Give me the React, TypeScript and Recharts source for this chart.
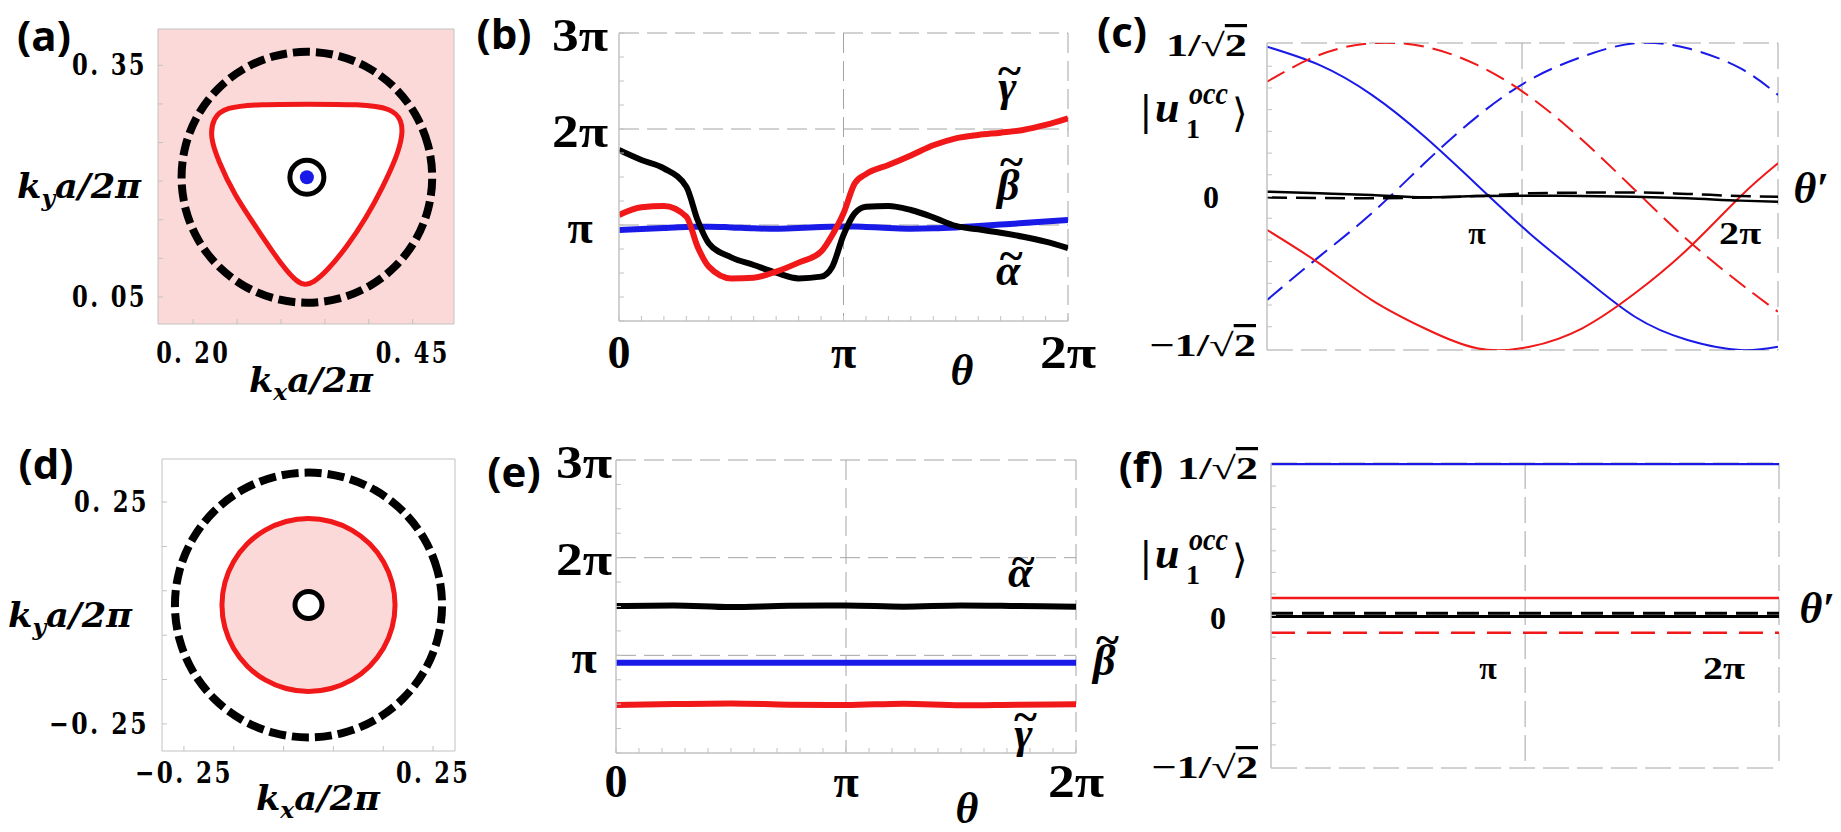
import React from 'react';
import { Area, CartesianGrid, ComposedChart, Line, Scatter, XAxis, YAxis } from 'recharts';

const RED = '#f01818';
const BLUE = '#1a1ae8';
const PINK = '#fcd9d9';
const FRAME = '#c2c2c2';
const GRID = '#a4a4a4';
const SERIF = '"Liberation Serif", "DejaVu Serif", serif';
const DJ = '"DejaVu Serif", serif';
const SANS = '"Open Sans", Lato, sans-serif';
const INV_SQRT2 = 0.7071;

// (a) loops in k-space, pairs of [kx a/2π, ky a/2π]
const aLoopK = [
  [0.4738, 0.205], [0.4689, 0.2475], [0.4545, 0.2872], [0.4315, 0.3212], [0.4017, 0.3473], [0.3668, 0.3637],
  [0.3295, 0.3693], [0.2922, 0.3637], [0.2573, 0.3473], [0.2275, 0.3212], [0.2045, 0.2872], [0.1901, 0.2475],
  [0.1852, 0.205], [0.1901, 0.1625], [0.2045, 0.1228], [0.2275, 0.0888], [0.2573, 0.0627], [0.2922, 0.0463],
  [0.3295, 0.0407], [0.3668, 0.0463], [0.4017, 0.0627], [0.4315, 0.0888], [0.4545, 0.1228], [0.4689, 0.1625],
];
const aFermiK = [
  [0.3295, 0.2997], [0.3898, 0.2997], [0.4261, 0.2945], [0.4375, 0.279], [0.4386, 0.2596], [0.4318, 0.2311],
  [0.4159, 0.1923], [0.3977, 0.1535], [0.375, 0.1147], [0.3523, 0.0836], [0.3364, 0.0681], [0.3273, 0.0655],
  [0.3182, 0.0694], [0.3023, 0.0888], [0.2761, 0.1328], [0.2455, 0.1845], [0.2284, 0.2272], [0.2193, 0.257],
  [0.2227, 0.2816], [0.2364, 0.2958], [0.2761, 0.2997],
];
const aCenterK = [[0.3295, 0.205]];
const aTicksX = [0.2, 0.45];
const aTicksY = [0.05, 0.35];
const aMinorX = [0.2, 0.25, 0.3, 0.35, 0.4, 0.45];
const aMinorY = [0.05, 0.1, 0.15, 0.2, 0.25, 0.3, 0.35];

// (d)
const dLoopK = [
  [0.2711, 0.018], [0.2619, 0.0961], [0.2348, 0.1689], [0.1917, 0.2314], [0.1356, 0.2794], [0.0702, 0.3095],
  [0, 0.3198], [-0.0702, 0.3095], [-0.1356, 0.2794], [-0.1917, 0.2314], [-0.2348, 0.1689], [-0.2619, 0.0961],
  [-0.2711, 0.018], [-0.2619, -0.0601], [-0.2348, -0.1329], [-0.1917, -0.1954], [-0.1356, -0.2434], [-0.0702, -0.2735],
  [0, -0.2838], [0.0702, -0.2735], [0.1356, -0.2434], [0.1917, -0.1954], [0.2348, -0.1329], [0.2619, -0.0601],
];
const dFermiK = [
  [0.1757, 0.018], [0.1697, 0.069], [0.1522, 0.1166], [0.1242, 0.1574], [0.0879, 0.1887], [0.0455, 0.2084],
  [0, 0.2151], [-0.0455, 0.2084], [-0.0879, 0.1887], [-0.1242, 0.1574], [-0.1522, 0.1166], [-0.1697, 0.069],
  [-0.1757, 0.018], [-0.1697, -0.033], [-0.1522, -0.0806], [-0.1242, -0.1214], [-0.0879, -0.1527], [-0.0455, -0.1724],
  [0, -0.1791], [0.0455, -0.1724], [0.0879, -0.1527], [0.1242, -0.1214], [0.1522, -0.0806], [0.1697, -0.033],
];
const dCenterK = [[0, 0.018]];
const dTicks = [-0.25, 0.25];
const dMinor = [-0.25, -0.15, -0.05, 0.05, 0.15, 0.25];

// (b) Wilson loop phases, θ and phases in units of π
const bTheta = [0, 0.1, 0.2, 0.3, 0.35, 0.4, 0.5, 0.6, 0.7, 0.8, 0.9, 0.95, 1, 1.05, 1.1, 1.2, 1.3, 1.4, 1.5, 1.6, 1.7, 1.8, 1.9, 2];
const bAlpha = [1.781, 1.677, 1.59, 1.399, 1.052, 0.809, 0.663, 0.583, 0.503, 0.444, 0.462, 0.566, 0.896, 1.122, 1.191, 1.198, 1.156, 1.08, 0.99, 0.955, 0.92, 0.878, 0.826, 0.76];
const bBeta = [0.948, 0.958, 0.97, 0.98, 0.982, 0.983, 0.975, 0.965, 0.96, 0.968, 0.978, 0.982, 0.985, 0.985, 0.98, 0.97, 0.962, 0.965, 0.975, 0.99, 1.005, 1.02, 1.037, 1.052];
const bGamma = [1.104, 1.184, 1.198, 1.087, 0.774, 0.566, 0.444, 0.451, 0.514, 0.608, 0.722, 0.896, 1.122, 1.434, 1.53, 1.625, 1.725, 1.83, 1.903, 1.938, 1.962, 1.99, 2.042, 2.111];

// (e)
const eTheta = [0, 0.25, 0.5, 0.75, 1, 1.25, 1.5, 1.75, 2];
const eAlpha = [1.505, 1.511, 1.494, 1.508, 1.511, 1.498, 1.511, 1.505, 1.498];
const eBeta = [0.925, 0.925, 0.925, 0.925, 0.925, 0.925, 0.925, 0.925, 0.925];
const eGamma = [0.491, 0.502, 0.508, 0.495, 0.491, 0.505, 0.488, 0.495, 0.498];

const thetaLabels = [0, 1, 2];
const thetaMinor = [0, 0.1, 0.2, 0.3, 0.4, 0.5, 0.6, 0.7, 0.8, 0.9, 1, 1.1, 1.2, 1.3, 1.4, 1.5, 1.6, 1.7, 1.8, 1.9, 2];
const phaseLabels = [1, 2, 3];
const phaseMinor = [0, 0.25, 0.5, 0.75, 1, 1.25, 1.5, 1.75, 2, 2.25, 2.5, 2.75, 3];

// (c) components of |u1occ> along θ′ (units of π)
const cTheta = [0.2015, 0.4, 0.6, 0.8, 1, 1.2, 1.4, 1.6, 1.8, 2, 2.144];
const cBlueSolid = [0.69, 0.606, 0.468, 0.276, 0.053, -0.17, -0.369, -0.554, -0.661, -0.707, -0.692];
const cBlueDashed = [-0.477, -0.277, -0.077, 0.153, 0.368, 0.537, 0.644, 0.706, 0.683, 0.591, 0.468];
const cRedSolid = [-0.154, -0.308, -0.477, -0.607, -0.699, -0.692, -0.607, -0.446, -0.243, -0.001, 0.153];
const cRedDashed = [0.529, 0.652, 0.706, 0.69, 0.606, 0.46, 0.26, 0.03, -0.2, -0.4, -0.531];
const cBlackSolid = [0.022, 0.015, 0.007, -0.004, 0.002, 0.004, 0.002, -0.001, -0.008, -0.019, -0.024];
const cBlackDashed = [-0.004, -0.007, -0.008, -0.005, 0.002, 0.015, 0.018, 0.019, 0.012, 0.002, -0.001];

// (f)
const fTheta = [0.08, 0.6, 1.2, 1.8, 2.233];
const fBlueSolid = [0.703, 0.703, 0.703, 0.703, 0.703];
const fRedSolid = [0.081, 0.081, 0.081, 0.081, 0.081];
const fRedDashed = [-0.08, -0.08, -0.08, -0.08, -0.08];
const fBlackSolid = [-0.005, -0.005, -0.005, -0.005, -0.005];
const fBlackDashed = [0.01, 0.01, 0.01, 0.01, 0.01];

const uLabelsY = [-INV_SQRT2, 0, INV_SQRT2];
const uMinorY = [-INV_SQRT2, -0.6, -0.5, -0.4, -0.3, -0.2, -0.1, 0, 0.1, 0.2, 0.3, 0.4, 0.5, 0.6, INV_SQRT2];
const uTicksX = [1, 2];

const pts = (pairs: number[][]) => pairs.map(([x, y]) => ({ x, y }));
const zip = (xs: number[], ys: number[]) => xs.map((x, i) => ({ x, y: ys[i] }));

type Frame = { x: number; y: number; w: number; h: number };
// the axes are 1px thick, so the plot area starts one pixel after the margin
const PAD = { top: 30, right: 40, bottom: 70, left: 150 };
const MARGIN = { top: PAD.top, right: PAD.right, bottom: PAD.bottom - 1, left: PAD.left - 1 };

function Panel({ f, children }: { f: Frame; children: React.ReactNode }) {
  return (
    <div style={{ position: 'absolute', left: f.x - PAD.left, top: f.y - PAD.top }}>
      <ComposedChart width={f.w + PAD.left + PAD.right} height={f.h + PAD.top + PAD.bottom} margin={MARGIN}>
        {children}
      </ComposedChart>
    </div>
  );
}

// small inward frame ticks, drawn together with the tick label
const tickUp = (p: any) => <line x1={p.x} y1={p.y} x2={p.x} y2={p.y - 5} stroke={FRAME} strokeWidth={1} />;
const tickRight = (p: any) => <line x1={p.x} y1={p.y} x2={p.x + 5} y2={p.y} stroke={FRAME} strokeWidth={1} />;

const kFmt = (v: number) => (v < 0 ? '−' : '') + Math.abs(v).toFixed(2).replace('.', '. ');
const kText = {
  fontFamily: DJ,
  fontWeight: 700,
  fontSize: 29,
  letterSpacing: 3,
  fill: '#000',
  dominantBaseline: 'central' as const,
  lengthAdjust: 'spacingAndGlyphs',
};
const kTickX = (dy: number, labels: number[]) => (p: any) => (
  <g>
    {tickUp(p)}
    {labels.includes(p.payload.value) ? (
      <text x={p.x} y={p.y + dy} textAnchor="middle" textLength={p.payload.value < 0 ? 98 : 74} {...kText}>
        {kFmt(p.payload.value)}
      </text>
    ) : null}
  </g>
);
const kTickY = (dx: number, labels: number[]) => (p: any) => (
  <g>
    {tickRight(p)}
    {labels.includes(p.payload.value) ? (
      <text x={p.x + dx} y={p.y} textAnchor="end" textLength={p.payload.value < 0 ? 100 : 75} {...kText}>
        {kFmt(p.payload.value)}
      </text>
    ) : null}
  </g>
);

const piFmt = (v: number) => (v === 0 ? '0' : v === 1 ? 'π' : `${v}π`);
const bigText = { fontFamily: SERIF, fontWeight: 700, fontSize: 46, fill: '#000', dominantBaseline: 'central' as const, textAnchor: 'middle' as const };
const phaseTickX = (dy: number) => (p: any) => {
  const v = p.payload.value;
  return (
    <g>
      {tickUp(p)}
      {thetaLabels.includes(v) ? (
        <text x={p.x} y={p.y + dy} {...bigText} {...(v === 2 ? { textLength: 56, lengthAdjust: 'spacingAndGlyphs' } : {})}>
          {piFmt(v)}
        </text>
      ) : null}
    </g>
  );
};
const phaseTickY = (dx: number) => (p: any) => {
  const v = p.payload.value;
  return (
    <g>
      {tickRight(p)}
      {phaseLabels.includes(v) ? (
        <text x={p.x + dx} y={p.y + 2} {...bigText} {...(v > 1 ? { textLength: 56, lengthAdjust: 'spacingAndGlyphs' } : {})}>
          {piFmt(v)}
        </text>
      ) : null}
    </g>
  );
};

const uText = { fontFamily: SERIF, fontWeight: 700, fontSize: 32, fill: '#000', dominantBaseline: 'central' as const };
const uTickX = (dy: number) => (p: any) => (
  <text x={p.x} y={p.y + dy} textAnchor="middle" {...uText} {...(p.payload.value === 2 ? { textLength: 42, lengthAdjust: 'spacingAndGlyphs' } : {})}>
    {piFmt(p.payload.value)}
  </text>
);
const uTickY = (pos: number[], zero: number[], neg: number[]) => (p: any) => {
  const v = p.payload.value;
  if (!uLabelsY.includes(v)) return tickRight(p);
  if (v === 0) {
    return (
      <g>
        {tickRight(p)}
        <text x={p.x + zero[0]} y={p.y + zero[1]} textAnchor="middle" {...uText}>
          0
        </text>
      </g>
    );
  }
  const [dx, dy] = v > 0 ? pos : neg;
  return (
    <text x={p.x + dx} y={p.y + dy} textAnchor="end" textLength={v < 0 ? 107 : 81} lengthAdjust="spacingAndGlyphs" {...uText}>
      {v < 0 ? '−' : ''}1/√<tspan style={{ textDecoration: 'overline' }}>2</tspan>
    </text>
  );
};

const ring = (r: number, sw: number, dot?: string) => (p: any) => (
  <g>
    <circle cx={p.cx} cy={p.cy} r={r} fill="#fff" stroke="#000" strokeWidth={sw} />
    {dot ? <circle cx={p.cx} cy={p.cy} r={7} fill={dot} /> : null}
  </g>
);

// Greek letter with a tilde set above it; lw is the letter's advance width
const TILDE_W = 23;
function Tilded({ x, y, ch, ty, lw }: { x: number; y: number; ch: string; ty: number; lw: number }) {
  return (
    <text x={x - lw / 2} y={y} fontFamily={SERIF} fontWeight={700} fontSize={44}>
      <tspan fontStyle="italic">{ch}</tspan>
      <tspan dx={3 - TILDE_W / 2 - lw / 2} dy={ty + 13 - y}>
        ~
      </tspan>
    </text>
  );
}

function KLabel({ x, y, sub }: { x: number; y: number; sub: string }) {
  return (
    <text x={x} y={y} textAnchor="middle" fontFamily={DJ} fontStyle="italic" fontWeight={700} fontSize={33} textLength={124} lengthAdjust="spacingAndGlyphs">
      k<tspan dy={8} fontSize={22}>{sub}</tspan>
      <tspan dy={-8}>a/2π</tspan>
    </text>
  );
}

function Ket({ dy }: { dy: number }) {
  return (
    <text fontFamily={SERIF} fontWeight={700}>
      <tspan x={1141} y={125 + dy} fontSize={44}>|</tspan>
      <tspan x={1155} y={122 + dy} fontSize={44} fontStyle="italic">u</tspan>
      <tspan x={1189} y={104 + dy} fontSize={32} fontStyle="italic" textLength={39} lengthAdjust="spacingAndGlyphs">occ</tspan>
      <tspan x={1186} y={138 + dy} fontSize={28}>1</tspan>
      <tspan x={1232} y={127 + dy} fontSize={40} fontFamily={DJ} fontWeight={400}>⟩</tspan>
    </text>
  );
}

const A: Frame = { x: 158, y: 29, w: 296, h: 295 };
const B: Frame = { x: 619, y: 33, w: 449, h: 288 };
const C: Frame = { x: 1267, y: 43, w: 511, h: 307 };
const D: Frame = { x: 162, y: 459, w: 293, h: 292 };
const E: Frame = { x: 616, y: 460, w: 460, h: 293 };
const F: Frame = { x: 1271, y: 463, w: 508, h: 305 };

const noAnim = { isAnimationActive: false, dot: false, activeDot: false } as const;
const xAx = { type: 'number', dataKey: 'x', interval: 0, allowDataOverflow: true, height: 1, tickSize: 0, tickMargin: 0, tickLine: false } as const;
const yAx = { type: 'number', dataKey: 'y', interval: 0, allowDataOverflow: true, width: 1, tickSize: 0, tickMargin: 0, tickLine: false } as const;
const solidAxis = { stroke: FRAME, strokeWidth: 1.5 };

export default function App() {
  const aDomX = [0.16, 0.497];
  const aDomY = [0.015, 0.397];
  const dDomX = [-0.294, 0.294];
  const dDomY = [-0.311, 0.347];
  const cDomX = [0.2015, 2.144];
  const fDomX = [0.08, 2.233];
  const uDomY = [-INV_SQRT2, INV_SQRT2];

  return (
    <div style={{ position: 'absolute', left: 0, top: 0, width: 1841, height: 832, background: '#fff', overflow: 'hidden' }}>
      {/* (a) */}
      <Panel f={A}>
        <CartesianGrid fill={PINK} fillOpacity={1} stroke={FRAME} horizontalValues={aDomY} verticalValues={aDomX} />
        <XAxis {...xAx} domain={aDomX} ticks={aMinorX} axisLine={false} tick={kTickX(29, aTicksX)} />
        <YAxis {...yAx} domain={aDomY} ticks={aMinorY} axisLine={false} tick={kTickY(-11, aTicksY)} />
        <Area data={pts(aFermiK)} dataKey="y" type="basisClosed" fill="#ffffff" fillOpacity={1} stroke={RED} strokeWidth={5} {...noAnim} />
        <Line data={pts(aLoopK)} dataKey="y" type="basisClosed" stroke="#000" strokeWidth={8} strokeDasharray="17 6" {...noAnim} />
        <Scatter data={pts(aCenterK)} dataKey="y" isAnimationActive={false} shape={ring(17, 5, BLUE)} />
      </Panel>

      {/* (d) */}
      <Panel f={D}>
        <CartesianGrid stroke={FRAME} horizontalValues={dDomY} verticalValues={dDomX} />
        <XAxis {...xAx} domain={dDomX} ticks={dMinor} axisLine={false} tick={kTickX(22, dTicks)} />
        <YAxis {...yAx} domain={dDomY} ticks={dMinor} axisLine={false} tick={kTickY(-13, dTicks)} />
        <Area data={pts(dFermiK)} dataKey="y" type="basisClosed" fill={PINK} fillOpacity={1} stroke={RED} strokeWidth={5} {...noAnim} />
        <Line data={pts(dLoopK)} dataKey="y" type="basisClosed" stroke="#000" strokeWidth={8} strokeDasharray="17 6" {...noAnim} />
        <Scatter data={pts(dCenterK)} dataKey="y" isAnimationActive={false} shape={ring(13.5, 5)} />
      </Panel>

      {/* (b) */}
      <Panel f={B}>
        <CartesianGrid stroke={GRID} strokeDasharray="20 8" horizontalValues={[1, 2, 3]} verticalValues={[1, 2]} />
        <XAxis {...xAx} domain={[0, 2]} ticks={thetaMinor} axisLine={solidAxis} tick={phaseTickX(31)} />
        <YAxis {...yAx} domain={[0, 3]} ticks={phaseMinor} axisLine={solidAxis} tick={phaseTickY(-39)} />
        <Line data={zip(bTheta, bBeta)} dataKey="y" type="monotone" stroke={BLUE} strokeWidth={6} {...noAnim} />
        <Line data={zip(bTheta, bAlpha)} dataKey="y" type="monotone" stroke="#000" strokeWidth={6} {...noAnim} />
        <Line data={zip(bTheta, bGamma)} dataKey="y" type="monotone" stroke={RED} strokeWidth={6} {...noAnim} />
      </Panel>

      {/* (e) */}
      <Panel f={E}>
        <CartesianGrid stroke={GRID} strokeDasharray="20 8" horizontalValues={[1, 2, 3]} verticalValues={[1, 2]} />
        <XAxis {...xAx} domain={[0, 2]} ticks={thetaMinor} axisLine={solidAxis} tick={phaseTickX(28)} />
        <YAxis {...yAx} domain={[0, 3]} ticks={phaseMinor} axisLine={solidAxis} tick={phaseTickY(-32)} />
        <Line data={zip(eTheta, eBeta)} dataKey="y" type="monotone" stroke={BLUE} strokeWidth={6} {...noAnim} />
        <Line data={zip(eTheta, eAlpha)} dataKey="y" type="monotone" stroke="#000" strokeWidth={6} {...noAnim} />
        <Line data={zip(eTheta, eGamma)} dataKey="y" type="monotone" stroke={RED} strokeWidth={6} {...noAnim} />
      </Panel>

      {/* (c) */}
      <Panel f={C}>
        <CartesianGrid stroke={GRID} strokeDasharray="26 8" horizontalValues={uDomY} verticalValues={[1.171, 2.144]} />
        <XAxis {...xAx} domain={cDomX} ticks={uTicksX} axisLine={false} tick={uTickX(-117)} />
        <YAxis {...yAx} domain={uDomY} ticks={uMinorY} axisLine={solidAxis} tick={uTickY([-20, 2], [-56, 0], [-11, -5])} />
        <Line data={zip(cTheta, cBlueSolid)} dataKey="y" type="natural" stroke={BLUE} strokeWidth={2} {...noAnim} />
        <Line data={zip(cTheta, cBlueDashed)} dataKey="y" type="natural" stroke={BLUE} strokeWidth={2} strokeDasharray="20 9" {...noAnim} />
        <Line data={zip(cTheta, cRedSolid)} dataKey="y" type="natural" stroke={RED} strokeWidth={2} {...noAnim} />
        <Line data={zip(cTheta, cRedDashed)} dataKey="y" type="natural" stroke={RED} strokeWidth={2} strokeDasharray="20 9" {...noAnim} />
        <Line data={zip(cTheta, cBlackDashed)} dataKey="y" type="monotone" stroke="#000" strokeWidth={2.5} strokeDasharray="20 9" {...noAnim} />
        <Line data={zip(cTheta, cBlackSolid)} dataKey="y" type="monotone" stroke="#000" strokeWidth={2.5} {...noAnim} />
      </Panel>

      {/* (f) */}
      <Panel f={F}>
        <CartesianGrid stroke={GRID} strokeDasharray="26 8" horizontalValues={uDomY} verticalValues={[1.157, 2.233]} />
        <XAxis {...xAx} domain={fDomX} ticks={uTicksX} axisLine={false} tick={uTickX(-100)} />
        <YAxis {...yAx} domain={uDomY} ticks={uMinorY} axisLine={solidAxis} tick={uTickY([-13, 5], [-53, 2], [-13, -1])} />
        <Line data={zip(fTheta, fBlueSolid)} dataKey="y" type="linear" stroke={BLUE} strokeWidth={2.5} {...noAnim} />
        <Line data={zip(fTheta, fRedSolid)} dataKey="y" type="linear" stroke={RED} strokeWidth={2.5} {...noAnim} />
        <Line data={zip(fTheta, fRedDashed)} dataKey="y" type="linear" stroke={RED} strokeWidth={2.5} strokeDasharray="24 12" {...noAnim} />
        <Line data={zip(fTheta, fBlackSolid)} dataKey="y" type="linear" stroke="#000" strokeWidth={3} {...noAnim} />
        <Line data={zip(fTheta, fBlackDashed)} dataKey="y" type="linear" stroke="#000" strokeWidth={3} strokeDasharray="22 9" {...noAnim} />
      </Panel>

      <svg width={1841} height={832} style={{ position: 'absolute', left: 0, top: 0, pointerEvents: 'none' }}>
        <g fontFamily={SANS} fontWeight={700} fontSize={42} textAnchor="middle" dominantBaseline="central">
          <text x={44} y={34}>(a)</text>
          <text x={504} y={32}>(b)</text>
          <text x={1122} y={30}>(c)</text>
          <text x={46} y={462}>(d)</text>
          <text x={514} y={470}>(e)</text>
          <text x={1141} y={465}>(f)</text>
        </g>

        <KLabel x={79} y={198} sub="y" />
        <KLabel x={311} y={392} sub="x" />
        <KLabel x={70} y={627} sub="y" />
        <KLabel x={318} y={810} sub="x" />

        <Tilded x={1008} y={101} ty={72} ch="γ" lw={20} />
        <Tilded x={1008} y={200} ty={163} ch="β" lw={22} />
        <Tilded x={1008} y={285} ty={257} ch="α" lw={24} />
        <Tilded x={1020} y={587} ty={562} ch="α" lw={24} />
        <Tilded x={1104} y={675} ty={641} ch="β" lw={22} />
        <Tilded x={1024} y={748} ty={718} ch="γ" lw={20} />

        <g fontFamily={SERIF} fontStyle="italic" fontWeight={700} fontSize={44} textAnchor="middle" dominantBaseline="central">
          <text x={962} y={370}>θ</text>
          <text x={967} y={808}>θ</text>
          <text x={1811} y={188}>θ′</text>
          <text x={1817} y={608}>θ′</text>
        </g>

        <Ket dy={0} />
        <Ket dy={446} />
      </svg>
    </div>
  );
}
